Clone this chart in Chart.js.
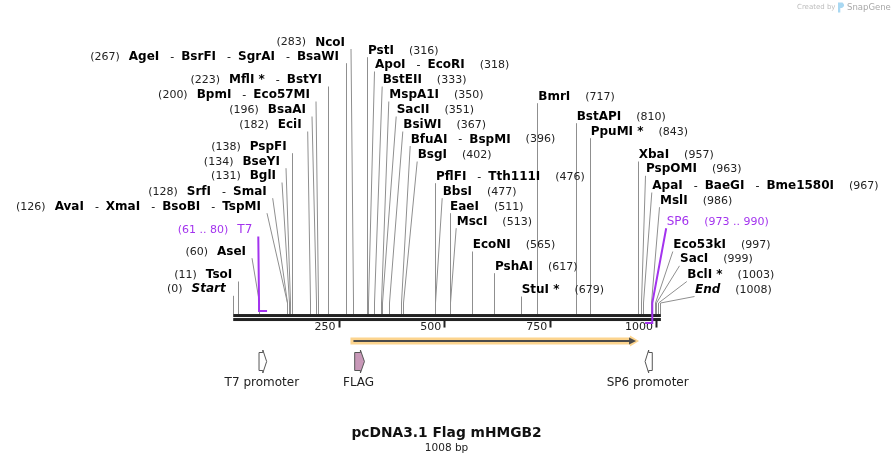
<!DOCTYPE html>
<html lang="en">
<head>
  <meta charset="UTF-8" />
  <title>pcDNA3.1 Flag mHMGB2</title>
  <script src="https://cdn.jsdelivr.net/npm/chart.js"></script>
  <style>
    html, body { margin: 0; padding: 0; background: #fff; }
    #wrap { width: 895px; height: 464px; position: relative; }
  </style>
</head>
<body>
<div id="wrap"><canvas id="mapChart"></canvas></div>

<script>
// sequence
const seqName = 'pcDNA3.1 Flag mHMGB2';
const seqLength = 1008;
const axisTicks = [250, 500, 750, 1000];

// restriction sites (bp) and the enzymes cutting there
const cutSites = [0, 11, 60, 126, 128, 131, 134, 138, 182, 196, 200, 223, 267, 283,
  316, 318, 333, 350, 351, 367, 396, 402, 476, 477, 511, 513, 565, 617, 679,
  717, 810, 843, 957, 963, 967, 986, 997, 999, 1003, 1008];
const cutEnzymes = [
  ['Start'], ['TsoI'], ['AseI'], ['AvaI', 'XmaI', 'BsoBI', 'TspMI'], ['SrfI', 'SmaI'],
  ['BglI'], ['BseYI'], ['PspFI'], ['EciI'], ['BsaAI'], ['BpmI', 'Eco57MI'],
  ['MflI *', 'BstYI'], ['AgeI', 'BsrFI', 'SgrAI', 'BsaWI'], ['NcoI'],
  ['PstI'], ['ApoI', 'EcoRI'], ['BstEII'], ['MspA1I'], ['SacII'], ['BsiWI'],
  ['BfuAI', 'BspMI'], ['BsgI'], ['PflFI', 'Tth111I'], ['BbsI'], ['EaeI'], ['MscI'],
  ['EcoNI'], ['PshAI'], ['StuI *'],
  ['BmrI'], ['BstAPI'], ['PpuMI *'], ['XbaI'], ['PspOMI'], ['ApaI', 'BaeGI', 'Bme1580I'],
  ['MslI'], ['Eco53kI'], ['SacI'], ['BclI *'], ['End']
];

// primers
const primerNames = ['T7', 'SP6'];
const primerStart = [61, 973];
const primerEnd = [80, 990];
const primerStrand = [1, -1];

// features
const featureNames = ['T7 promoter', 'FLAG', 'SP6 promoter'];
const featureStart = [61, 287, 973];
const featureEnd = [79, 310, 990];
const featureStrand = [1, 1, -1];
const orfStart = 277;
const orfEnd = 954;

// label placement (text edge x / middle y in px), kept apart from the data
const labelSide = ['L','L','L','L','L','L','L','L','L','L','L','L','L','L',
  'R','R','R','R','R','R','R','R','R','R','R','R','R','R','R',
  'R','R','R','R','R','R','R','R','R','R','R'];
const labelX = [225.7, 232.3, 246, 261, 266.7, 276, 280, 286.7, 301.7, 306, 310, 322, 339, 345,
  368, 375, 382.7, 389.3, 396.7, 403.3, 410.7, 417.7, 436, 442.7, 450, 456.7, 472.7, 495, 521.7,
  538.3, 576.7, 590.7, 638.7, 646, 652.3, 660, 673.3, 680, 687.3, 695];
const labelY = [289.3, 275, 251.7, 206.7, 191.7, 176, 161.7, 146.7, 125, 110, 95, 80, 56.7, 42.5,
  50.7, 65, 80, 95, 110, 125, 139.5, 155, 176.7, 191.7, 206.7, 221.7, 245, 266.7, 290,
  96.7, 116.7, 131.7, 155, 169.3, 186, 200.7, 245, 259.3, 275, 290];
const primerSide = ['L', 'R'];
const primerX = [252.3, 666.7];
const primerY = [230, 221.7];

const FONT = '"DejaVu Sans", Verdana, sans-serif';
const NAME_FONT = 'bold 12px ' + FONT;
const ITAL_FONT = 'italic bold 12px ' + FONT;
const NUM_FONT = '11px ' + FONT;
const PURPLE = '#a333ee';
const KNEE_Y = 303;
const SEP_BEFORE = 11;
const SEP_AFTER = 7;

Chart.defaults.font.family = FONT;

function namesWidth(ctx, names, font) {
  let w = 0;
  names.forEach((n, k) => {
    ctx.font = font;
    w += ctx.measureText(n).width;
    if (k < names.length - 1) {
      ctx.font = NUM_FONT;
      w += SEP_BEFORE + ctx.measureText('-').width + SEP_AFTER;
    }
  });
  return w;
}

function drawNames(ctx, names, font, x, y, color) {
  ctx.fillStyle = color;
  names.forEach((n, k) => {
    ctx.font = font;
    ctx.fillText(n, x, y);
    x += ctx.measureText(n).width;
    if (k < names.length - 1) {
      ctx.font = NUM_FONT;
      x += SEP_BEFORE;
      ctx.fillText('-', x, y);
      x += ctx.measureText('-').width + SEP_AFTER;
    }
  });
  return x;
}

function drawLabel(ctx, side, x, y, names, numText, font, nameColor, numColor, gap) {
  ctx.textBaseline = 'middle';
  ctx.textAlign = 'left';
  const nw = namesWidth(ctx, names, font);
  ctx.font = NUM_FONT;
  const numW = ctx.measureText(numText).width;
  if (side === 'L') {
    const start = x - nw - 9 - numW;
    ctx.fillStyle = numColor;
    ctx.font = NUM_FONT;
    ctx.fillText(numText, start, y);
    drawNames(ctx, names, font, start + numW + 9, y, nameColor);
  } else {
    const end = drawNames(ctx, names, font, x, y, nameColor);
    ctx.fillStyle = numColor;
    ctx.font = NUM_FONT;
    ctx.fillText(numText, end + gap, y);
  }
}

function leaderTop(side, x, y) {
  return side === 'L' ? [x + 6, y + 6.5] : [x - 0.5, y + 6.5];
}

function drawFeature(ctx, x0, x1, strand, fill) {
  const yc = 361.5, bh = 9, hh = 11.5;
  const head = Math.min(4, (x1 - x0) * 0.5);
  ctx.beginPath();
  if (strand > 0) {
    const xb = x1 - head;
    ctx.moveTo(x0, yc - bh); ctx.lineTo(xb, yc - bh); ctx.lineTo(xb, yc - hh);
    ctx.lineTo(x1, yc); ctx.lineTo(xb, yc + hh); ctx.lineTo(xb, yc + bh);
    ctx.lineTo(x0, yc + bh);
  } else {
    const xb = x0 + head;
    ctx.moveTo(x1, yc - bh); ctx.lineTo(xb, yc - bh); ctx.lineTo(xb, yc - hh);
    ctx.lineTo(x0, yc); ctx.lineTo(xb, yc + hh); ctx.lineTo(xb, yc + bh);
    ctx.lineTo(x1, yc + bh);
  }
  ctx.closePath();
  ctx.fillStyle = fill;
  ctx.fill();
  ctx.strokeStyle = '#555';
  ctx.lineWidth = 1;
  ctx.stroke();
}

const mapPlugin = {
  id: 'mapPlugin',
  afterDraw(chart) {
    const ctx = chart.ctx;
    const xs = chart.scales.x;
    const px = bp => xs.getPixelForValue(bp);
    const bottom = chart.chartArea.bottom;
    const bbTop = bottom - 7;
    ctx.save();

    // cut-site leaders
    ctx.strokeStyle = '#8f8f8f';
    ctx.lineWidth = 1;
    cutSites.forEach((site, i) => {
      const cx = Math.round(px(site)) + 0.5;
      let [tx, ty] = leaderTop(labelSide[i], labelX[i], labelY[i]);
      if (Math.abs(tx - cx) < 2) tx = cx;
      ctx.beginPath();
      ctx.moveTo(tx, ty);
      ctx.lineTo(cx, KNEE_Y);
      ctx.lineTo(cx, bbTop);
      ctx.stroke();
    });

    // backbone
    ctx.fillStyle = '#222';
    ctx.fillRect(px(0), bbTop, px(seqLength) - px(0) + 1, 3);
    ctx.fillRect(px(0), bbTop + 4, px(seqLength) - px(0) + 1, 3);

    // primers
    ctx.strokeStyle = PURPLE;
    ctx.lineWidth = 2;
    primerNames.forEach((name, i) => {
      const [tx, ty] = leaderTop(primerSide[i], primerX[i], primerY[i]);
      const s = px(primerStart[i]), e = px(primerEnd[i]);
      ctx.beginPath();
      if (primerStrand[i] > 0) {
        ctx.moveTo(tx, ty);
        ctx.lineTo(s, KNEE_Y);
        ctx.lineTo(s, bbTop - 3);
        ctx.lineTo(e, bbTop - 3);
      } else {
        ctx.moveTo(tx, ty);
        ctx.lineTo(e, KNEE_Y);
        ctx.lineTo(e, bottom + 2);
        ctx.lineTo(s, bottom + 2);
      }
      ctx.stroke();
      const numText = '(' + primerStart[i] + ' .. ' + primerEnd[i] + ')';
      drawLabel(ctx, primerSide[i], primerX[i], primerY[i], [name], numText,
        '12px ' + FONT, PURPLE, PURPLE, 15);
    });

    // enzyme labels
    cutSites.forEach((site, i) => {
      const names = cutEnzymes[i];
      const font = (names[0] === 'Start' || names[0] === 'End') ? ITAL_FONT : NAME_FONT;
      drawLabel(ctx, labelSide[i], labelX[i], labelY[i], names, '(' + site + ')',
        font, '#000', '#222', 15);
    });

    // ORF arrow
    const o0 = px(orfStart), o1 = px(orfEnd), oy = 341;
    ctx.fillStyle = '#fcd48e';
    ctx.beginPath();
    ctx.moveTo(o0, oy - 3.5); ctx.lineTo(o1 - 7, oy - 3.5); ctx.lineTo(o1 - 7, oy - 5.5);
    ctx.lineTo(o1 + 2, oy); ctx.lineTo(o1 - 7, oy + 5.5); ctx.lineTo(o1 - 7, oy + 3.5);
    ctx.lineTo(o0, oy + 3.5);
    ctx.closePath();
    ctx.fill();
    ctx.strokeStyle = '#4a4a4a';
    ctx.lineWidth = 2;
    ctx.beginPath();
    ctx.moveTo(o0 + 3, oy); ctx.lineTo(o1 - 6, oy);
    ctx.stroke();
    ctx.fillStyle = '#4a4a4a';
    ctx.beginPath();
    ctx.moveTo(o1 - 8, oy - 3.5); ctx.lineTo(o1 - 1, oy); ctx.lineTo(o1 - 8, oy + 3.5);
    ctx.closePath();
    ctx.fill();

    // features
    featureNames.forEach((name, i) => {
      const x0 = px(featureStart[i]), x1 = px(featureEnd[i]);
      drawFeature(ctx, x0, x1, featureStrand[i], name === 'FLAG' ? '#c898b8' : '#fff');
      ctx.fillStyle = '#222';
      ctx.font = '12px ' + FONT;
      ctx.textAlign = 'center';
      ctx.textBaseline = 'middle';
      ctx.fillText(name, (x0 + x1) / 2 - 1, 383);
    });

    // watermark
    ctx.textAlign = 'left';
    ctx.textBaseline = 'middle';
    ctx.fillStyle = '#bdbdbd';
    ctx.font = '7px ' + FONT;
    ctx.fillText('Created by', 797, 7.5);
    ctx.fillStyle = '#a9d8f2';
    ctx.beginPath();
    ctx.moveTo(838, 2.5); ctx.lineTo(842.5, 2.5); ctx.quadraticCurveTo(846, 5.5, 842, 8);
    ctx.lineTo(840.3, 8); ctx.lineTo(840.3, 12.5); ctx.lineTo(838, 12.5);
    ctx.closePath();
    ctx.fill();
    ctx.fillStyle = '#a8a8a8';
    ctx.font = '8.5px ' + FONT;
    ctx.fillText('SnapGene', 847, 7.5);
    ctx.restore();
  }
};

new Chart(document.getElementById('mapChart'), {
  type: 'scatter',
  data: {
    datasets: [{
      label: 'cut sites',
      data: cutSites.map(s => ({ x: s, y: 0.5 })),
      pointRadius: 0
    }]
  },
  options: {
    responsive: true,
    maintainAspectRatio: false,
    animation: false,
    layout: { padding: { left: 233.2, right: 235.1, top: 0, bottom: 0 } },
    scales: {
      x: {
        type: 'linear',
        min: 0,
        max: seqLength,
        position: 'bottom',
        afterBuildTicks: s => { s.ticks = axisTicks.map(v => ({ value: v })); },
        afterFit: s => { s.height = 14; },
        border: { display: false },
        grid: { drawOnChartArea: false, drawTicks: true, tickLength: 6.5, tickWidth: 2, tickColor: '#222' },
        ticks: { align: 'end', labelOffset: -3.5, padding: -7.4, color: '#222', font: { size: 11 }, callback: v => String(v) }
      },
      y: { display: false, min: 0, max: 1 }
    },
    plugins: {
      legend: { display: false },
      tooltip: { enabled: false },
      title: {
        display: true,
        text: seqName,
        position: 'bottom',
        weight: 1000,
        color: '#111',
        font: { size: 13.8, weight: 'bold' },
        padding: { top: 90, bottom: 0.1 }
      },
      subtitle: {
        display: true,
        text: seqLength + ' bp',
        position: 'bottom',
        weight: 1500,
        color: '#222',
        font: { size: 10.5 },
        padding: { top: 0, bottom: 9.7 }
      }
    }
  },
  plugins: [mapPlugin]
});
</script>
</body>
</html>
